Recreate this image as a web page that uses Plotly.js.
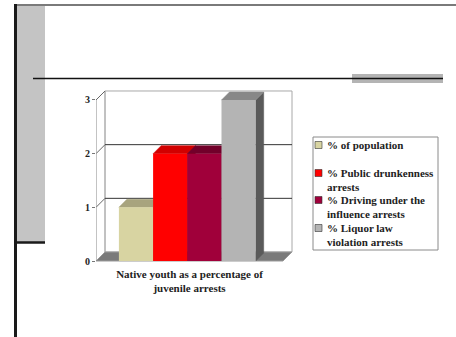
<!DOCTYPE html>
<html><head><meta charset="utf-8">
<script src="https://cdn.plot.ly/plotly-3.0.1.min.js"></script>
<style>html,body{margin:0;padding:0;background:#fff;}#chart{width:456px;height:337px;}</style>
</head><body><div id="chart"></div>
<script>
// ---- data ----
const categories = ['Native youth as a percentage of<br>juvenile arrests'];
const seriesNames = ['% of population', '% Public drunkenness<br>arrests', '% Driving under the<br>influence arrests', '% Liquor law<br>violation arrests'];
const seriesValues = [1, 2, 2, 3];
const yTickValues = [0, 1, 2, 3];

// ---- styles ----
const frontColors = ['#d8d4a2', '#ff0000', '#a0003a', '#b4b4b4'];
const topColors   = ['#a8a47e', '#d20000', '#72002a', '#888888'];
const sideColors  = ['#8c8968', '#a00000', '#58001f', '#5a5a5a'];
const serif = 'Liberation Serif, Times New Roman, serif';

// ---- geometry (pixels -> axis units) ----
const W = 456, H = 337;
const L = 96, R = 296, T = 86, B = 264;
const xUnit = 34.2, x0px = 136;
const yUnit = 53.67, y0px = 261;
const xr = [(L - x0px) / xUnit, (R - x0px) / xUnit];
const yr = [-(B - y0px) / yUnit, (y0px - T) / yUnit];
const dxW = 9 / xUnit, dyW = 9 / yUnit;
const dxB = 8 / xUnit, dyB = 8 / yUnit;
const xLeft = xr[0], xRight = (283 - x0px) / xUnit;
const yTop = yTickValues[yTickValues.length - 1];

const traces = [];
const poly = (x, y, fill, line, lw) => ({
  type: 'scatter', mode: 'lines', x: x, y: y, fill: 'toself', fillcolor: fill,
  line: {color: line, width: lw}, hoverinfo: 'skip', showlegend: false, xaxis: 'x', yaxis: 'y'
});
const lines = (x, y, color, w) => ({
  type: 'scatter', mode: 'lines', x: x, y: y, line: {color: color, width: w},
  hoverinfo: 'skip', showlegend: false, xaxis: 'x', yaxis: 'y'
});

// back wall
traces.push(poly([xLeft + dxW, xRight + dxW, xRight + dxW, xLeft + dxW, xLeft + dxW],
                 [dyW, dyW, yTop + dyW, yTop + dyW, dyW], '#ffffff', '#a8a8a8', 1));
// left wall back edge
traces.push(lines([xLeft + dxW, xLeft + dxW], [dyW, yTop + dyW], '#b0b0b0', 1));
// gridlines on back wall
const gx = [], gy = [];
yTickValues.slice(1, -1).forEach(v => { gx.push(xLeft + dxW, xRight + dxW, null); gy.push(v + dyW, v + dyW, null); });
traces.push(lines(gx, gy, '#333333', 1));
// left wall connectors
const cx = [], cy = [];
yTickValues.slice(1).forEach(v => { cx.push(xLeft, xLeft + dxW, null); cy.push(v, v + dyW, null); });
traces.push(lines(cx, cy, '#666666', 1));
// floor
traces.push(poly([xLeft, xRight, xRight + dxW, xLeft + dxW, xLeft], [0, 0, dyW, dyW, 0], '#7a7a7a', '#9a9a9a', 1));
// front axis line
traces.push(lines([xLeft, xLeft], [0, yTop], '#888888', 1));

// bar sides and tops
seriesValues.forEach((v, i) => {
  const a = i - 0.5, b = i + 0.5;
  traces.push(poly([b, b + dxB, b + dxB, b, b], [0, dyB, v + dyB, v, 0], sideColors[i], sideColors[i], 0.5));
  traces.push(poly([a, b, b + dxB, a + dxB, a], [v, v, v + dyB, v + dyB, v], topColors[i], topColors[i], 0.5));
});
// bar fronts on overlay axes (drawn above)
seriesValues.forEach((v, i) => {
  traces.push({type: 'bar', x: [i], y: [v], width: 1, name: seriesNames[i],
    marker: {color: frontColors[i], line: {width: 0}}, xaxis: 'x2', yaxis: 'y2',
    hoverinfo: 'name+y', showlegend: false});
});

// ---- pixel to paper helpers for slide decoration & legend ----
const px = p => (p - L) / (R - L);
const py = p => (B - p) / (B - T);
const rect = (x0, y0, x1, y1, fill, line, lw) => ({type: 'rect', xref: 'paper', yref: 'paper',
  x0: px(x0), x1: px(x1), y0: py(y0), y1: py(y1), fillcolor: fill, line: {color: line, width: lw}, layer: 'above'});
const seg = (x0, y0, x1, y1, color, w) => ({type: 'line', xref: 'paper', yref: 'paper',
  x0: px(x0), x1: px(x1), y0: py(y0), y1: py(y1), line: {color: color, width: w}, layer: 'above'});

const shapes = [
  rect(17, 6, 45, 242, '#c4c4c4', 'rgba(0,0,0,0)', 0),
  seg(14, 5, 456, 5, '#7a7a7a', 2),
  seg(15.5, 4, 15.5, 337, '#1a1a1a', 3),
  seg(16, 242.5, 45, 242.5, '#1a1a1a', 2.5),
  rect(352, 74, 443, 83, '#b4b4b4', 'rgba(0,0,0,0)', 0),
  seg(33, 78.5, 443, 78.5, '#111111', 1.5),
  rect(313, 137, 438, 250, '#ffffff', '#8a8a8a', 1)
];
const annotations = [];
const legendY = [145, 173, 200, 228];
seriesNames.forEach((n, i) => {
  shapes.push(rect(315, legendY[i] - 3.5, 322, legendY[i] + 3.5, frontColors[i], '#333333', 0.6));
  annotations.push({xref: 'paper', yref: 'paper', x: px(325), y: py(legendY[i] - 8), xanchor: 'left', yanchor: 'top',
    align: 'left', showarrow: false, text: n, font: {family: serif, size: 11, color: '#222222', weight: 'bold'}});
});

const layout = {
  width: W, height: H,
  margin: {l: L, r: W - R, t: T, b: H - B, pad: 0},
  paper_bgcolor: '#ffffff', plot_bgcolor: 'rgba(0,0,0,0)',
  showlegend: false, barmode: 'overlay',
  xaxis: {range: xr, showgrid: false, zeroline: false, showline: false, ticks: '',
    tickvals: [(xLeft + xRight) / 2], ticktext: categories, ticklabelstandoff: 2,
    tickfont: {family: serif, size: 11, color: '#222222', weight: 'bold'}, fixedrange: true},
  yaxis: {range: yr, showgrid: false, zeroline: false, showline: false, ticks: 'outside', ticklen: 3,
    tickcolor: '#777777', tickvals: yTickValues, tickfont: {family: serif, size: 10, color: '#222222', weight: 'bold'}, fixedrange: true},
  xaxis2: {range: xr, overlaying: 'x', visible: false, fixedrange: true},
  yaxis2: {range: yr, overlaying: 'y', visible: false, fixedrange: true},
  shapes: shapes, annotations: annotations
};
Plotly.newPlot('chart', traces, layout, {displayModeBar: false, staticPlot: true});
</script></body></html>
